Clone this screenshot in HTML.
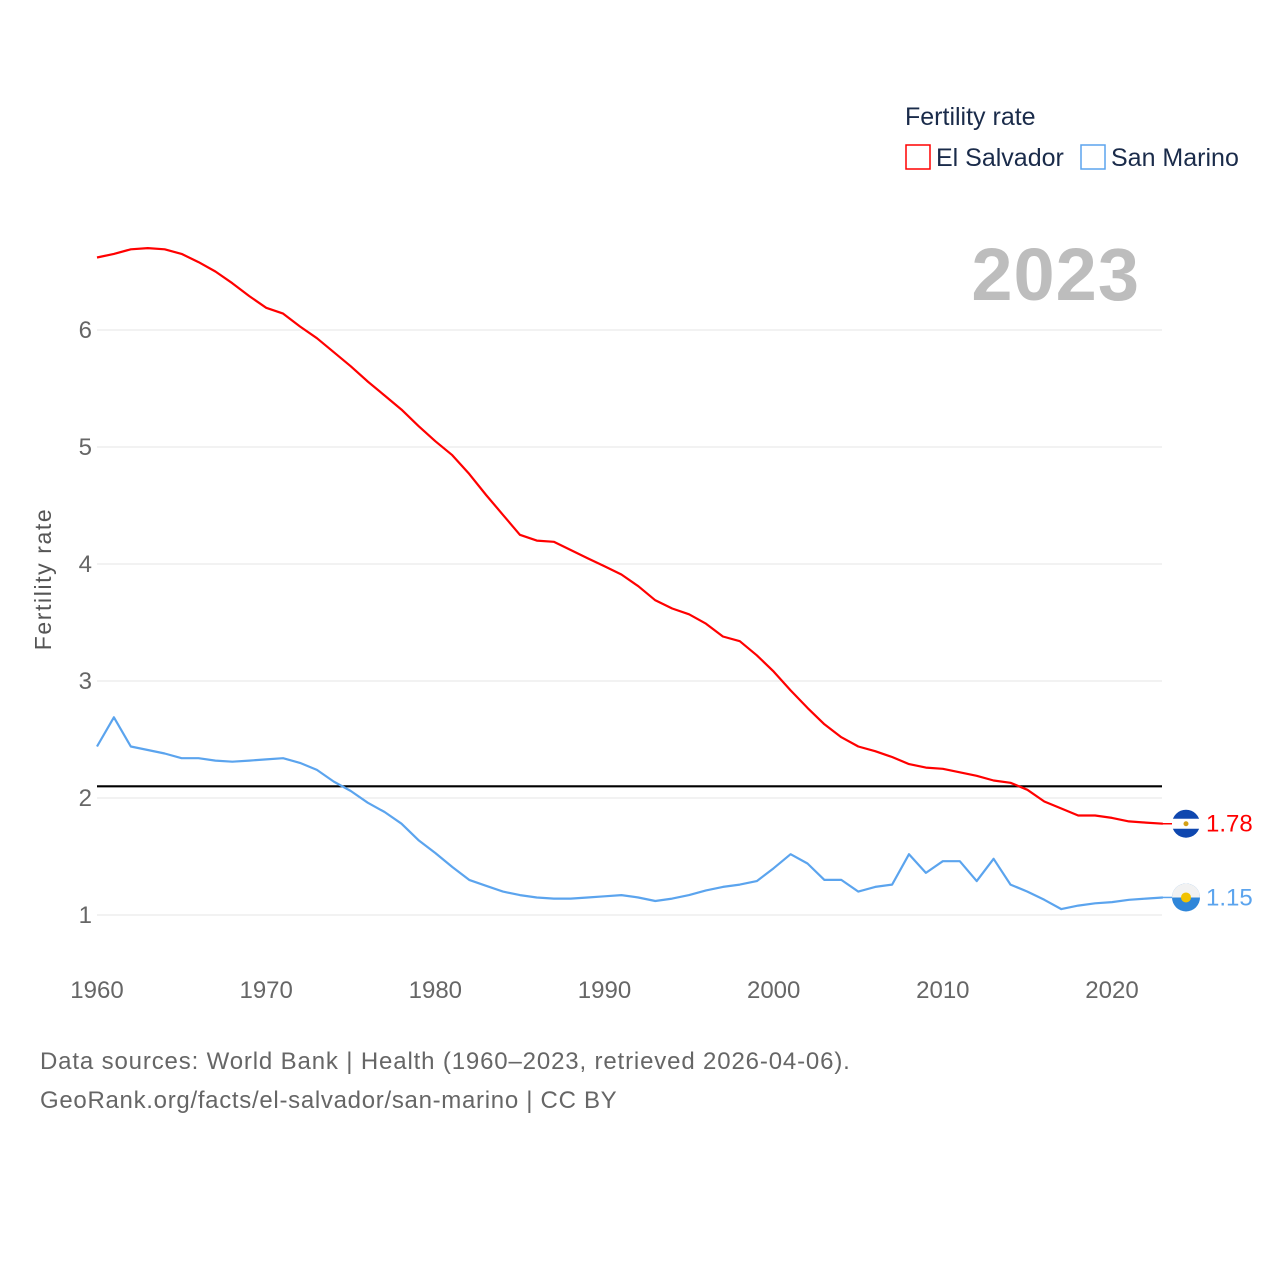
<!DOCTYPE html>
<html><head><meta charset="utf-8"><style>
body{margin:0;background:#fff;}
svg text{font-family:"Liberation Sans",sans-serif;}
</style></head><body>
<svg id="c" width="1280" height="1280" viewBox="0 0 1280 1280">
<text x="905" y="125" font-size="25" fill="#1a2b4a">Fertility rate</text>
<g><rect x="906" y="145" width="24" height="24" fill="none" stroke="#ff0000" stroke-width="1.5"/><text x="936" y="166" font-size="25" fill="#1a2b4a">El Salvador</text></g>
<g><rect x="1081" y="145" width="24" height="24" fill="none" stroke="#5ba4ee" stroke-width="1.5"/><text x="1111" y="166" font-size="25" fill="#1a2b4a">San Marino</text></g>
<text x="1140" y="300" font-size="74" font-weight="bold" fill="#bdbdbd" text-anchor="end" letter-spacing="1">2023</text>
<text transform="translate(51,579) rotate(-90)" font-size="23" fill="#555" text-anchor="middle" letter-spacing="1.6">Fertility rate</text>
<g id="grid"></g><g id="lines"></g>
<text x="40" y="1069" font-size="24" fill="#666" letter-spacing="0.85">Data sources: World Bank | Health (1960–2023, retrieved 2026-04-06).</text>
<text x="40" y="1108" font-size="24" fill="#666" letter-spacing="0.7">GeoRank.org/facts/el-salvador/san-marino | CC BY</text>
</svg>
<script>
const years=[];for(let y=1960;y<=2023;y++)years.push(y);
const elSalvador=[6.62,6.65,6.69,6.70,6.69,6.65,6.58,6.50,6.40,6.29,6.19,6.14,6.03,5.93,5.81,5.69,5.56,5.44,5.32,5.18,5.05,4.93,4.77,4.59,4.42,4.25,4.20,4.19,4.12,4.05,3.98,3.91,3.81,3.69,3.62,3.57,3.49,3.38,3.34,3.22,3.08,2.92,2.77,2.63,2.52,2.44,2.40,2.35,2.29,2.26,2.25,2.22,2.19,2.15,2.13,2.07,1.97,1.91,1.85,1.85,1.83,1.80,1.79,1.78];
const sanMarino=[2.44,2.69,2.44,2.41,2.38,2.34,2.34,2.32,2.31,2.32,2.33,2.34,2.30,2.24,2.14,2.06,1.96,1.88,1.78,1.64,1.53,1.41,1.30,1.25,1.20,1.17,1.15,1.14,1.14,1.15,1.16,1.17,1.15,1.12,1.14,1.17,1.21,1.24,1.26,1.29,1.40,1.52,1.44,1.30,1.30,1.20,1.24,1.26,1.52,1.36,1.46,1.46,1.29,1.48,1.26,1.20,1.13,1.05,1.08,1.10,1.11,1.13,1.14,1.15];
const yTicks=[1,2,3,4,5,6];
const xTicks=[1960,1970,1980,1990,2000,2010,2020];
const replacement=[2.1];
const NS="http://www.w3.org/2000/svg";
const X=v=>97+(v-1960)*(1015/60);
const Y=v=>915-(v-1)*117;
function mk(t,a,p){const e=document.createElementNS(NS,t);for(const k in a)e.setAttribute(k,a[k]);p.appendChild(e);return e;}
const g=document.getElementById('grid'),L=document.getElementById('lines');
yTicks.forEach(t=>{
 const l=mk('line',{x1:97,x2:1162,y1:Y(t),y2:Y(t),stroke:'#e6e6e6','stroke-width':1},g);
 
 
 const tx=mk('text',{x:92,y:Y(t)+8,'font-size':24,fill:'#666','text-anchor':'end'},g);tx.textContent=t;
 
 
});
xTicks.forEach(t=>{
 const tx=mk('text',{x:X(t),y:998,'font-size':24,fill:'#666','text-anchor':'middle'},g);tx.textContent=t;
 
 
});
replacement.forEach(v=>{
 const l=mk('line',{x1:97,x2:1162,y1:Y(v),y2:Y(v),stroke:'#000','stroke-width':2.2},L);
 
 
});
function series(vals,color,name,flag){
 const d=vals.map((v,i)=>(i?'L':'M')+X(years[i]).toFixed(1)+','+Y(v).toFixed(1)).join(' ');
 const p=mk('path',{d:d,fill:'none',stroke:color,'stroke-width':2.2,'stroke-linejoin':'round'},L);
 
 
 const last=vals[vals.length-1],yy=Y(last);
 mk('line',{x1:1162,x2:1172,y1:yy,y2:yy,stroke:color,'stroke-width':1.5},L);
 const c=mk('g',{},L);
 
 
 if(flag==='sv'){
  mk('circle',{cx:1186,cy:yy,r:14,fill:'#0f47af'},c);
  mk('rect',{x:1172,y:yy-5,width:28,height:10,fill:'#fff'},c);
  mk('circle',{cx:1186,cy:yy,r:2.5,fill:'#d4a017'},c);
 }else{
  mk('circle',{cx:1186,cy:yy,r:14,fill:'#2f86d9'},c);
  mk('path',{d:`M1172,${yy} A14,14 0 0 1 1200,${yy} Z`,fill:'#f2f2f2'},c);
  mk('circle',{cx:1186,cy:yy,r:5,fill:'#f2c200'},c);
 }
 const t=mk('text',{x:1206,y:yy+8,'font-size':24,fill:color},L);t.textContent=last.toFixed(2);
 
 
}
series(elSalvador,'#ff0000','el-salvador','sv');
series(sanMarino,'#5ba4ee','san-marino','sm');
</script>
</body></html>
